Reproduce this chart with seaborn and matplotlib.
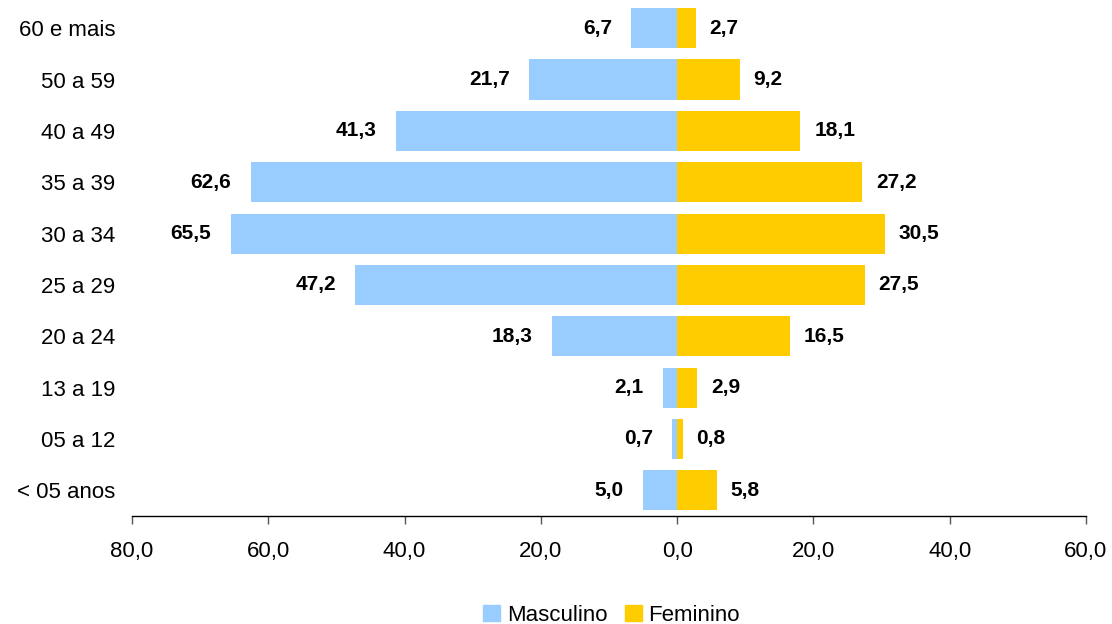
import pandas as pd
import matplotlib
matplotlib.use("Agg")
import matplotlib.pyplot as plt
from matplotlib.patches import Patch
from matplotlib.ticker import FuncFormatter
import seaborn as sns

faixas = ["60 e mais", "50 a 59", "40 a 49", "35 a 39", "30 a 34",
          "25 a 29", "20 a 24", "13 a 19", "05 a 12", "< 05 anos"]
masculino = [6.7, 21.7, 41.3, 62.6, 65.5, 47.2, 18.3, 2.1, 0.7, 5.0]
feminino = [2.7, 9.2, 18.1, 27.2, 30.5, 27.5, 16.5, 2.9, 0.8, 5.8]
x_ticks = [-80, -60, -40, -20, 0, 20, 40, 60]

cores = {"Masculino": "#99CCFF", "Feminino": "#FFCC00"}

df = pd.DataFrame({
    "faixa": faixas * 2,
    "valor": [-v for v in masculino] + feminino,
    "sexo": ["Masculino"] * len(faixas) + ["Feminino"] * len(faixas),
})

sns.set_style("white")
plt.rcParams["font.family"] = ["Liberation Sans", "DejaVu Sans"]
plt.rcParams["text.color"] = "black"
plt.rcParams["xtick.color"] = "black"
plt.rcParams["ytick.color"] = "black"

fig = plt.figure(figsize=(11.12, 6.24), dpi=100)
ax = fig.add_axes([0.1187, 0.1731, 0.8579, 0.8229])

sns.barplot(data=df, x="valor", y="faixa", hue="sexo", order=faixas,
            hue_order=["Masculino", "Feminino"], palette=cores, dodge=False,
            width=0.78, orient="h", legend=False, saturation=1,
            linewidth=0, ax=ax)

fmt = lambda v: f"{abs(v):.1f}".replace(".", ",")
ax.bar_label(ax.containers[0], labels=[fmt(v) for v in masculino], padding=14,
             fontsize=15, fontweight="bold", color="black")
ax.bar_label(ax.containers[1], labels=[fmt(v) for v in feminino], padding=10,
             fontsize=15, fontweight="bold", color="black")

ax.set_xlim(-80, 60)
ax.set_xticks(x_ticks)
ax.xaxis.set_major_formatter(FuncFormatter(lambda v, p: fmt(v)))
ax.set_xlabel("")
ax.set_ylabel("")
ax.tick_params(axis="x", direction="out", length=6, width=1, color="#555555",
               labelsize=16, labelcolor="black", pad=12, bottom=True)
ax.tick_params(axis="y", length=0, labelsize=16, labelcolor="black", pad=12)
for s in ["top", "right", "left"]:
    ax.spines[s].set_visible(False)
ax.spines["bottom"].set_color("black")
ax.spines["bottom"].set_linewidth(1)

handles = [Patch(color=cores[k], label=k) for k in ["Masculino", "Feminino"]]
fig.legend(handles=handles, loc="lower center", bbox_to_anchor=(0.55, -0.035),
           ncol=2, frameon=False, fontsize=16, handlelength=0.75,
           handleheight=0.75, handletextpad=0.3, columnspacing=0.8)

fig.savefig("out.png", dpi=100)
